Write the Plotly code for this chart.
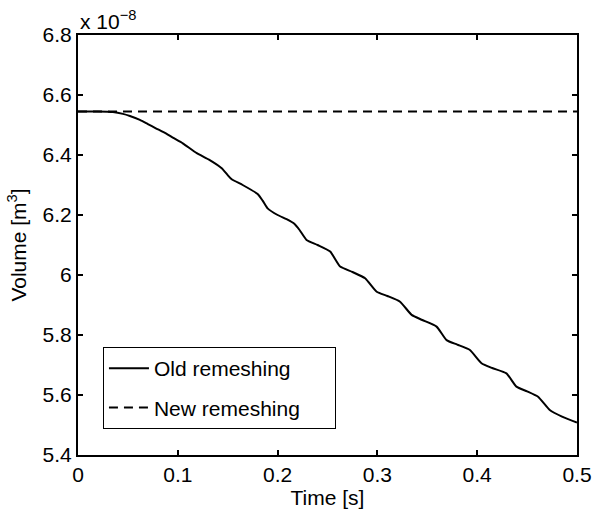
import plotly.graph_objects as go

# Time [s]
time_old = [0.000, 0.020, 0.035, 0.045, 0.052, 0.062, 0.070, 0.078, 0.088, 0.095,
            0.105, 0.119, 0.132, 0.144, 0.150, 0.154, 0.165, 0.180, 0.185, 0.190,
            0.200, 0.209, 0.217, 0.222, 0.229, 0.240, 0.2527, 0.2627, 0.275, 0.2877,
            0.2993, 0.310, 0.3227, 0.3343, 0.345, 0.3593, 0.3693, 0.380, 0.3927, 0.4043,
            0.415, 0.4293, 0.4393, 0.450, 0.461, 0.4727, 0.485, 0.500]
# Volume [x 1e-8 m^3]
vol_old = [6.545, 6.545, 6.543, 6.537, 6.530, 6.517, 6.503, 6.489, 6.472, 6.458,
           6.439, 6.406, 6.383, 6.356, 6.333, 6.319, 6.300, 6.270, 6.248, 6.222,
           6.200, 6.186, 6.170, 6.150, 6.117, 6.100, 6.078, 6.028, 6.010, 5.989,
           5.944, 5.930, 5.911, 5.867, 5.850, 5.828, 5.783, 5.768, 5.750, 5.706,
           5.690, 5.672, 5.628, 5.612, 5.594, 5.550, 5.528, 5.508]

time_new = [0.0, 0.5]
vol_new = [6.545, 6.545]

x_ticks = [0, 0.1, 0.2, 0.3, 0.4, 0.5]
x_ticklabels = ["0", "0.1", "0.2", "0.3", "0.4", "0.5"]
y_ticks = [5.4, 5.6, 5.8, 6.0, 6.2, 6.4, 6.6, 6.8]
y_ticklabels = ["5.4", "5.6", "5.8", "6", "6.2", "6.4", "6.6", "6.8"]

FONT = "Liberation Sans, Arial, Helvetica, sans-serif"
FS = 21
PAD = "\u00a0" * 5

fig = go.Figure()
fig.add_trace(go.Scatter(x=time_old, y=vol_old, mode="lines", name="Old remeshing",
                         line=dict(color="black", width=2, shape="spline", smoothing=0.5),
                         legendgroup="a"))
fig.add_trace(go.Scatter(x=time_new, y=vol_new, mode="lines", name="New remeshing" + PAD,
                         line=dict(color="black", width=2, dash="9px,6px"),
                         legendgroup="b"))

axis_common = dict(showgrid=False, zeroline=False, showline=True, linecolor="black",
                   linewidth=2, mirror="ticks", ticks="inside", ticklen=5, tickwidth=1.5,
                   tickcolor="black", tickfont=dict(size=FS, color="black", family=FONT),
                   automargin=False)

fig.update_xaxes(range=[0, 0.5], tickvals=x_ticks, ticktext=x_ticklabels,
                 title=dict(text="Time [s]", font=dict(size=FS, color="black", family=FONT),
                            standoff=4),
                 **axis_common)
fig.update_yaxes(range=[5.4, 6.8], tickvals=y_ticks, ticktext=y_ticklabels,
                 title=dict(text="Volume [m<sup>3</sup>]", font=dict(size=FS, color="black", family=FONT),
                            standoff=10),
                 **axis_common)

fig.add_annotation(text="x 10<sup>−8</sup>", xref="paper", yref="paper", x=0.0, y=1.0,
                   xanchor="left", yanchor="bottom", showarrow=False,
                   font=dict(size=FS, color="black", family=FONT))

fig.update_layout(
    width=595, height=511,
    margin=dict(l=78, r=18, t=35, b=56),
    paper_bgcolor="white", plot_bgcolor="white",
    font=dict(family=FONT, size=FS, color="black"),
    legend=dict(x=0.05, y=0.257, xanchor="left", yanchor="top",
                bgcolor="white", bordercolor="black", borderwidth=1,
                font=dict(size=FS, color="black", family=FONT),
                itemwidth=40,
                traceorder="grouped", tracegroupgap=9),
    showlegend=True,
)

fig.write_html("out.html")
